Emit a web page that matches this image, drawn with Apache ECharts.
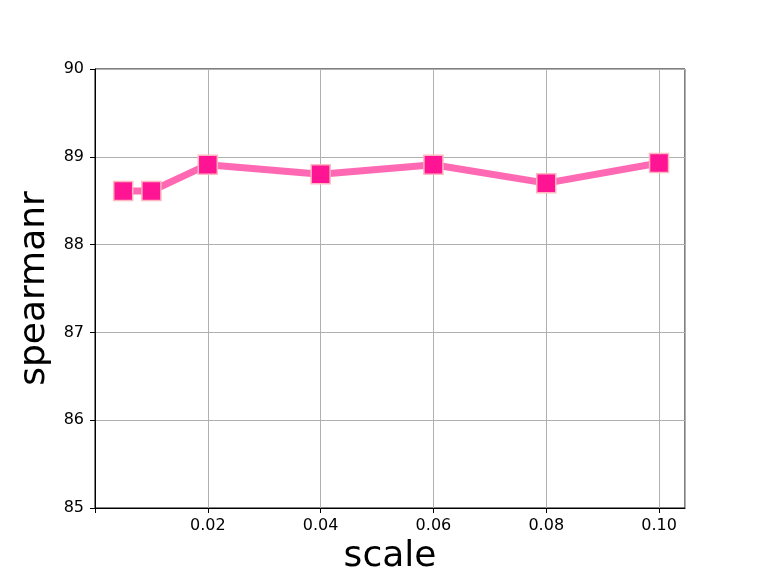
<!DOCTYPE html>
<html><head><meta charset="utf-8">
<script src="https://cdn.jsdelivr.net/npm/echarts@6/dist/echarts.min.js"></script>
<style>html,body{margin:0;padding:0;background:#fff}#c{width:761px;height:571px}</style>
</head><body><div id="c"></div>
<script>
const scales = [0.005, 0.01, 0.02, 0.04, 0.06, 0.08, 0.10];
const spearmanr = [88.61, 88.61, 88.91, 88.80, 88.91, 88.70, 88.93];
const yTicks = [85, 86, 87, 88, 89, 90];

const chart = echarts.init(document.getElementById('c'));
const font = 'DejaVu Sans';
chart.setOption({
  animation: false,
  grid: {left: 95, right: 76, top: 69, bottom: 63, show: true, borderColor: '#000', borderWidth: 1,
    backgroundColor: 'transparent', containLabel: false, outerBoundsMode: 'none'},
  xAxis: {
    type: 'value', min: 0, max: 0.1046, interval: 0.02,
    name: 'scale', nameLocation: 'middle', nameGap: 31,
    nameTextStyle: {fontFamily: font, fontSize: 36, color: '#000'},
    axisLine: {show: true, lineStyle: {color: '#000', width: 1}},
    axisTick: {show: true, length: 5, inside: false, lineStyle: {color: '#000'}},
    axisLabel: {fontFamily: font, fontSize: 16, color: '#000', margin: 10, showMaxLabel: false,
      formatter: v => (v < 0.001 || v > 0.101) ? '' : v.toFixed(2)},
    splitLine: {show: true, lineStyle: {color: '#b0b0b0', width: 1}}
  },
  yAxis: {
    type: 'value', min: yTicks[0], max: yTicks[yTicks.length - 1], interval: 1,
    name: 'spearmanr', nameLocation: 'middle', nameGap: 34,
    nameTextStyle: {fontFamily: font, fontSize: 36, color: '#000'},
    axisLine: {show: true, lineStyle: {color: '#000', width: 1}},
    axisTick: {show: true, length: 5, lineStyle: {color: '#000'}},
    axisLabel: {fontFamily: font, fontSize: 16, color: '#000', margin: 11},
    splitLine: {show: true, lineStyle: {color: '#b0b0b0', width: 1}}
  },
  series: [{
    type: 'line',
    data: scales.map((s, i) => [s, spearmanr[i]]),
    symbol: 'rect', symbolSize: 19,
    lineStyle: {color: '#ff69b4', width: 7},
    itemStyle: {color: '#ff1493', borderColor: '#ffb6c1', borderWidth: 1.5},
    z: 3
  }]
});
</script></body></html>
